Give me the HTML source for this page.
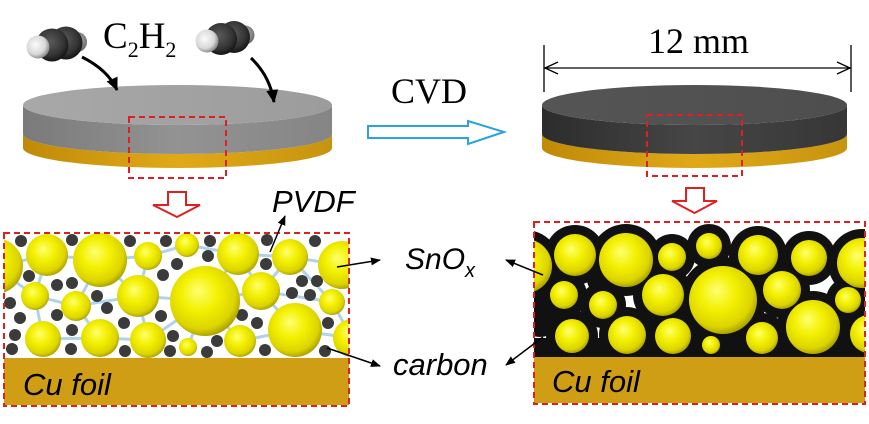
<!DOCTYPE html>
<html><head><meta charset="utf-8"><style>
html,body{margin:0;padding:0;background:#fff;}
svg{display:block;}
.sans{font-family:"Liberation Sans",Arial,sans-serif;font-style:italic;}
.serif{font-family:"Liberation Serif","Times New Roman",serif;}
</style></head><body>
<svg width="869" height="424" viewBox="0 0 869 424" xmlns="http://www.w3.org/2000/svg">
<defs>
<radialGradient id="ys" cx="0.45" cy="0.42" r="0.6" fx="0.4" fy="0.35">
<stop offset="0" stop-color="#ffff70"/><stop offset="0.45" stop-color="#f3f000"/><stop offset="0.82" stop-color="#dcd400"/><stop offset="1" stop-color="#a59d00"/>
</radialGradient>
<radialGradient id="cs" cx="0.45" cy="0.4" r="0.6"><stop offset="0" stop-color="#5a5a5a"/><stop offset="0.7" stop-color="#333"/><stop offset="1" stop-color="#151515"/></radialGradient>
<radialGradient id="hs" cx="0.4" cy="0.4" r="0.6"><stop offset="0" stop-color="#fafafa"/><stop offset="0.7" stop-color="#d8d8d8"/><stop offset="1" stop-color="#909090"/></radialGradient>
<radialGradient id="hb" cx="0.5" cy="0.4" r="0.6"><stop offset="0" stop-color="#bbb"/><stop offset="1" stop-color="#666"/></radialGradient>
<linearGradient id="gside" x1="0" x2="1" y1="0" y2="0"><stop offset="0" stop-color="#7a7a7a"/><stop offset="0.5" stop-color="#939393"/><stop offset="1" stop-color="#858585"/></linearGradient>
<linearGradient id="gtop" x1="0" x2="1"><stop offset="0" stop-color="#a8a8a8"/><stop offset="1" stop-color="#9c9c9c"/></linearGradient>
<linearGradient id="dside" x1="0" x2="1"><stop offset="0" stop-color="#2c2c2c"/><stop offset="0.5" stop-color="#464646"/><stop offset="1" stop-color="#363636"/></linearGradient>
<linearGradient id="dtop" x1="0" x2="1"><stop offset="0" stop-color="#555"/><stop offset="1" stop-color="#4e4e4e"/></linearGradient>
<linearGradient id="au" x1="0" x2="1"><stop offset="0" stop-color="#c08a08"/><stop offset="0.5" stop-color="#e0a918"/><stop offset="1" stop-color="#c8940e"/></linearGradient>
<marker id="ah" markerWidth="10" markerHeight="8" refX="9" refY="4" orient="auto" markerUnits="userSpaceOnUse"><path d="M0,0 L10,4 L0,8 Z" fill="#000"/></marker>
<marker id="ahb" markerWidth="14" markerHeight="12" refX="12" refY="6" orient="auto" markerUnits="userSpaceOnUse"><path d="M0,0 L13,6 L0,12 Z" fill="#000"/></marker>
<clipPath id="cl"><rect x="4" y="233" width="345" height="125"/></clipPath>
<clipPath id="cr"><rect x="534" y="222" width="331" height="135"/></clipPath>
</defs>

<!-- Left disk -->
<path d="M23,134 L23,148 A154.5,20 0 0 0 332,148 L332,134 A154.5,20 0 0 1 23,134 Z" fill="url(#au)"/>
<path d="M23,105 L23,134 A154.5,20 0 0 0 332,134 L332,105 A154.5,20 0 0 1 23,105 Z" fill="url(#gside)"/>
<ellipse cx="177.5" cy="105" rx="154.5" ry="20" fill="url(#gtop)"/>
<rect x="129" y="117" width="97" height="61" fill="none" stroke="#e02020" stroke-width="2" stroke-dasharray="6,4"/>

<!-- Right disk -->
<path d="M542,134 L542,148 A152.5,20 0 0 0 847,148 L847,134 A152.5,20 0 0 1 542,134 Z" fill="url(#au)"/>
<path d="M542,105 L542,134 A152.5,20 0 0 0 847,134 L847,105 A152.5,20 0 0 1 542,105 Z" fill="url(#dside)"/>
<ellipse cx="694.5" cy="105" rx="152.5" ry="20" fill="url(#dtop)"/>
<rect x="647" y="115" width="95" height="61" fill="none" stroke="#e02020" stroke-width="2" stroke-dasharray="6,4"/>

<!-- molecules -->
<circle cx="77" cy="42" r="10" fill="url(#hb)"/>
<circle cx="66" cy="43" r="16.5" fill="url(#cs)"/>
<circle cx="52" cy="45" r="16.5" fill="url(#cs)"/>
<circle cx="38" cy="47" r="11.5" fill="url(#hs)"/>
<circle cx="245" cy="35" r="9.5" fill="url(#hb)"/>
<circle cx="234" cy="37" r="16" fill="url(#cs)"/>
<circle cx="221" cy="39" r="16" fill="url(#cs)"/>
<circle cx="207" cy="41" r="11.5" fill="url(#hs)"/>

<!-- curved arrows -->
<path d="M82,57 Q108,70 117,90" fill="none" stroke="#000" stroke-width="3" marker-end="url(#ahb)"/>
<path d="M251,58 Q270,76 274,102" fill="none" stroke="#000" stroke-width="3" marker-end="url(#ahb)"/>

<text class="serif" x="103" y="48" font-size="37">C<tspan font-size="22" dy="9">2</tspan><tspan dy="-9">H</tspan><tspan font-size="22" dy="9">2</tspan></text>
<text class="serif" x="391" y="103" font-size="36">CVD</text>
<text class="serif" x="648" y="53" font-size="36">12 mm</text>

<!-- dimension line -->
<g stroke="#000" stroke-width="1.3" fill="none">
<line x1="544" y1="45" x2="544" y2="92"/><line x1="851" y1="45" x2="851" y2="92"/>
<line x1="544" y1="68" x2="851" y2="68"/>
<path d="M558,62 L545,68 L558,74"/><path d="M837,62 L850,68 L837,74"/>
</g>

<!-- CVD arrow -->
<polygon points="368,126 468,126 468,121 504,132 468,144 468,138 368,138" fill="#fff" stroke="#2aa3de" stroke-width="2"/>

<!-- red down arrows -->
<polygon points="168,192 186,192 186,205 200,205 177,217 153,205 168,205" fill="#fff" stroke="#e02020" stroke-width="2"/>
<polygon points="686,188 704,188 704,201 717,201 694.5,213 672,201 686,201" fill="#fff" stroke="#e02020" stroke-width="2"/>

<!-- Left panel -->
<g clip-path="url(#cl)">
<g stroke="#a8cfea" stroke-width="3" fill="none" opacity="0.9">
<polyline points="-5,267 47,255 100,260 148,256 187,245 238,254 290,257 342,265"/>
<polyline points="-5,267 35,296 76,306 138,296 205,301 261,291 332,302 352,338"/>
<polyline points="43,339 100,338 148,340 205,301 240,341 295,330 352,338"/>
<polyline points="47,255 35,296 43,339"/><polyline points="100,260 76,306 100,338"/>
<polyline points="148,256 138,296 148,340"/><polyline points="238,254 261,291 295,330"/>
<polyline points="290,257 332,302"/><polyline points="205,301 238,254"/><polyline points="188,347 205,301"/>
<polyline points="100,260 138,296"/><polyline points="261,291 290,257"/>
</g>
<g fill="#3b3b3b">
<circle cx="21" cy="241" r="6"/><circle cx="72" cy="240" r="6"/><circle cx="130" cy="241" r="6"/><circle cx="166" cy="241" r="6"/><circle cx="210" cy="241" r="6"/><circle cx="267" cy="240" r="6"/><circle cx="315" cy="241" r="6"/>
<circle cx="29" cy="276" r="6"/><circle cx="57" cy="285" r="6"/><circle cx="72" cy="283" r="6"/><circle cx="10" cy="303" r="6"/><circle cx="97" cy="296" r="6"/><circle cx="107" cy="308" r="6"/>
<circle cx="163" cy="275" r="6"/><circle cx="177" cy="264" r="6"/><circle cx="208" cy="256" r="6"/><circle cx="266" cy="264" r="6"/><circle cx="302" cy="281" r="6"/><circle cx="317" cy="281" r="6"/><circle cx="292" cy="293" r="6"/><circle cx="310" cy="295" r="6"/>
<circle cx="20" cy="318" r="6"/><circle cx="57" cy="315" r="6"/><circle cx="72" cy="330" r="6"/><circle cx="124" cy="323" r="6"/><circle cx="161" cy="316" r="6"/><circle cx="173" cy="336" r="6"/><circle cx="217" cy="341" r="6"/><circle cx="242" cy="315" r="6"/><circle cx="257" cy="323" r="6"/><circle cx="328" cy="323" r="6"/>
<circle cx="15" cy="335" r="6"/><circle cx="12" cy="349" r="6"/><circle cx="71" cy="349" r="6"/><circle cx="125" cy="351" r="6"/><circle cx="170" cy="351" r="6"/><circle cx="207" cy="352" r="6"/><circle cx="265" cy="350" r="6"/><circle cx="325" cy="351" r="6"/>
</g>
<g fill="url(#ys)">
<circle cx="-5" cy="266" r="28"/><circle cx="47" cy="255" r="21"/><circle cx="100" cy="260" r="27"/><circle cx="148" cy="256" r="14"/>
<circle cx="35" cy="296" r="14"/><circle cx="76" cy="306" r="15"/><circle cx="138" cy="296" r="21"/>
<circle cx="43" cy="339" r="18"/><circle cx="100" cy="338" r="19"/><circle cx="148" cy="340" r="18"/>
<circle cx="205" cy="301" r="35"/><circle cx="187" cy="245" r="12"/><circle cx="238" cy="254" r="21"/><circle cx="290" cy="257" r="18"/>
<circle cx="342" cy="265" r="24"/><circle cx="261" cy="291" r="19"/><circle cx="332" cy="302" r="13"/><circle cx="295" cy="330" r="27"/>
<circle cx="240" cy="341" r="16"/><circle cx="188" cy="347" r="9"/><circle cx="352" cy="338" r="19"/>
</g>
</g>
<rect x="4" y="358" width="345" height="47" fill="#d09e14"/>
<rect x="4" y="233" width="345" height="173" fill="none" stroke="#e02020" stroke-width="2" stroke-dasharray="6,4"/>
<text class="sans" x="23" y="395" font-size="31">Cu foil</text>

<!-- Right panel -->
<g clip-path="url(#cr)">
<g fill="#111">
<circle cx="525" cy="266" r="36"/><circle cx="575" cy="255" r="30"/><circle cx="626" cy="260" r="36"/><circle cx="672" cy="257" r="23"/><circle cx="709" cy="246" r="22"/><circle cx="758" cy="255" r="29"/><circle cx="809" cy="258" r="27"/><circle cx="862" cy="263" r="34"/>
<circle cx="564" cy="295" r="23"/><circle cx="603" cy="305" r="23"/><circle cx="663" cy="295" r="30"/><circle cx="723" cy="300" r="43"/><circle cx="782" cy="290" r="28"/><circle cx="848" cy="300" r="22"/>
<circle cx="572" cy="336" r="26"/><circle cx="627" cy="335" r="28"/><circle cx="673" cy="336" r="27"/><circle cx="711" cy="345" r="18"/><circle cx="762" cy="338" r="25"/><circle cx="813" cy="327" r="36"/><circle cx="869" cy="334" r="28"/>
<rect x="534" y="338" width="331" height="22"/>
<circle cx="540" cy="315" r="22"/><circle cx="690" cy="318" r="13"/><circle cx="600" cy="280" r="13"/><circle cx="540" cy="295" r="12"/>
</g>
<g fill="url(#ys)">
<circle cx="525" cy="266" r="27"/><circle cx="575" cy="255" r="21"/><circle cx="626" cy="260" r="27"/><circle cx="672" cy="257" r="14"/><circle cx="709" cy="246" r="13"/><circle cx="758" cy="255" r="20"/><circle cx="809" cy="258" r="18"/><circle cx="862" cy="263" r="25"/>
<circle cx="564" cy="295" r="14"/><circle cx="603" cy="305" r="14"/><circle cx="663" cy="295" r="21"/><circle cx="723" cy="300" r="34"/><circle cx="782" cy="290" r="19"/><circle cx="848" cy="300" r="13"/>
<circle cx="572" cy="336" r="17"/><circle cx="627" cy="335" r="19"/><circle cx="673" cy="336" r="18"/><circle cx="711" cy="345" r="9"/><circle cx="762" cy="338" r="16"/><circle cx="813" cy="327" r="27"/><circle cx="869" cy="334" r="19"/>
</g>
</g>
<rect x="534" y="357" width="331" height="46" fill="#d09e14"/>
<rect x="534" y="222" width="331" height="182" fill="none" stroke="#e02020" stroke-width="2" stroke-dasharray="6,4"/>
<text class="sans" x="552" y="392" font-size="31">Cu foil</text>

<!-- labels -->
<text class="sans" x="272" y="212" font-size="31">PVDF</text>
<text class="sans" x="405" y="269" font-size="30">SnO<tspan font-size="20" dy="8">x</tspan></text>
<text class="sans" x="393" y="375" font-size="31">carbon</text>

<g stroke="#000" stroke-width="1.5" fill="none">
<line x1="270" y1="252" x2="285" y2="216" marker-end="url(#ah)"/>
<line x1="337" y1="267" x2="380" y2="260" marker-end="url(#ah)"/>
<line x1="543" y1="275" x2="506" y2="260" marker-end="url(#ah)"/>
<line x1="327" y1="348" x2="380" y2="366" marker-end="url(#ah)"/>
<line x1="543" y1="337" x2="506" y2="365" marker-end="url(#ah)"/>
</g>
</svg>
</body></html>
